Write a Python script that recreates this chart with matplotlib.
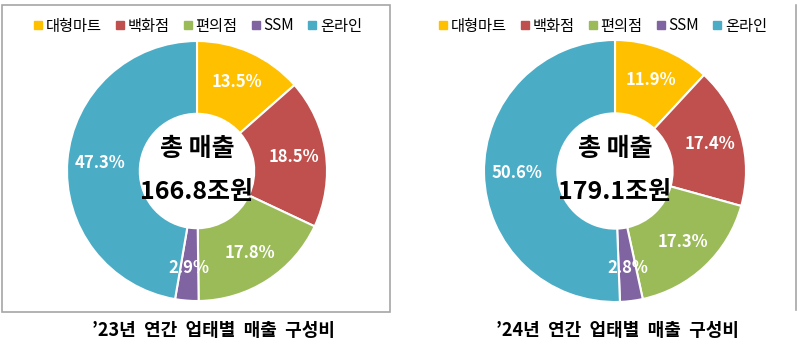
import matplotlib
matplotlib.use("Agg")
import matplotlib.pyplot as plt
from matplotlib.lines import Line2D
from matplotlib.patches import Rectangle

plt.rcParams['font.family'] = ['Noto Sans CJK KR', 'DejaVu Sans']

categories = ['대형마트', '백화점', '편의점', 'SSM', '온라인']
share_2023 = [13.5, 18.5, 17.8, 2.9, 47.3]
share_2024 = [11.9, 17.4, 17.3, 2.8, 50.6]
total_2023 = '166.8조원'
total_2024 = '179.1조원'
captions = ['’23년  연간  업태별  매출  구성비', '’24년  연간  업태별  매출  구성비']
colors = ['#FFC000', '#C0504D', '#9BBB59', '#8064A2', '#4BACC6']

W, H = 800, 354
fig = plt.figure(figsize=(W / 100, H / 100), dpi=100)

def px_axes(cx, cy, r):
    return fig.add_axes([(cx - r) / W, 1 - (cy + r) / H, 2 * r / W, 2 * r / H])

# panel frames
fig.patches.append(Rectangle((2 / W, 1 - 312 / H), 388 / W, 307 / H, transform=fig.transFigure,
                             fill=False, edgecolor='#A6A6A6', linewidth=1.2))
fig.add_artist(Line2D([796 / W, 796 / W], [1 - 5 / H, 1 - 310 / H], transform=fig.transFigure,
                      color='#A6A6A6', linewidth=1.2))

panels = [(197, 171, 130, share_2023, total_2023, 214, 197, captions[0]),
          (615, 171, 131, share_2024, total_2024, 617, 602, captions[1])]

for (cx, cy, r, vals, total, capx, legx, cap) in panels:
    ax = px_axes(cx, cy, r)
    ax.pie(
        vals, colors=colors, startangle=90, counterclock=False,
        wedgeprops=dict(width=0.56, edgecolor='white', linewidth=1.5),
        autopct=lambda p: f'{p:.1f}%', pctdistance=0.75,
        textprops=dict(color='white', fontsize=12, fontweight='bold'))
    ax.set_xlim(-1, 1)
    ax.set_ylim(-1, 1)
    ax.set_aspect('equal')
    ax.text(0, 0.17, '총 매출', ha='center', va='center', fontsize=18, fontweight='bold', color='black')
    ax.text(0, -0.16, total, ha='center', va='center', fontsize=18, fontweight='bold', color='black')

    handles = [Line2D([], [], marker='s', linestyle='none', markersize=6, color=c) for c in colors]
    fig.legend(handles, categories, loc='center', bbox_to_anchor=(legx / W, 1 - 26 / H),
               ncol=5, frameon=False, fontsize=11, handletextpad=0.1, columnspacing=0.8,
               handlelength=0.8)

    fig.text(capx / W, 1 - 331 / H, cap,
             ha='center', va='center', fontsize=13, fontweight='bold', color='black')

fig.savefig('out.png', dpi=100, facecolor='white')
